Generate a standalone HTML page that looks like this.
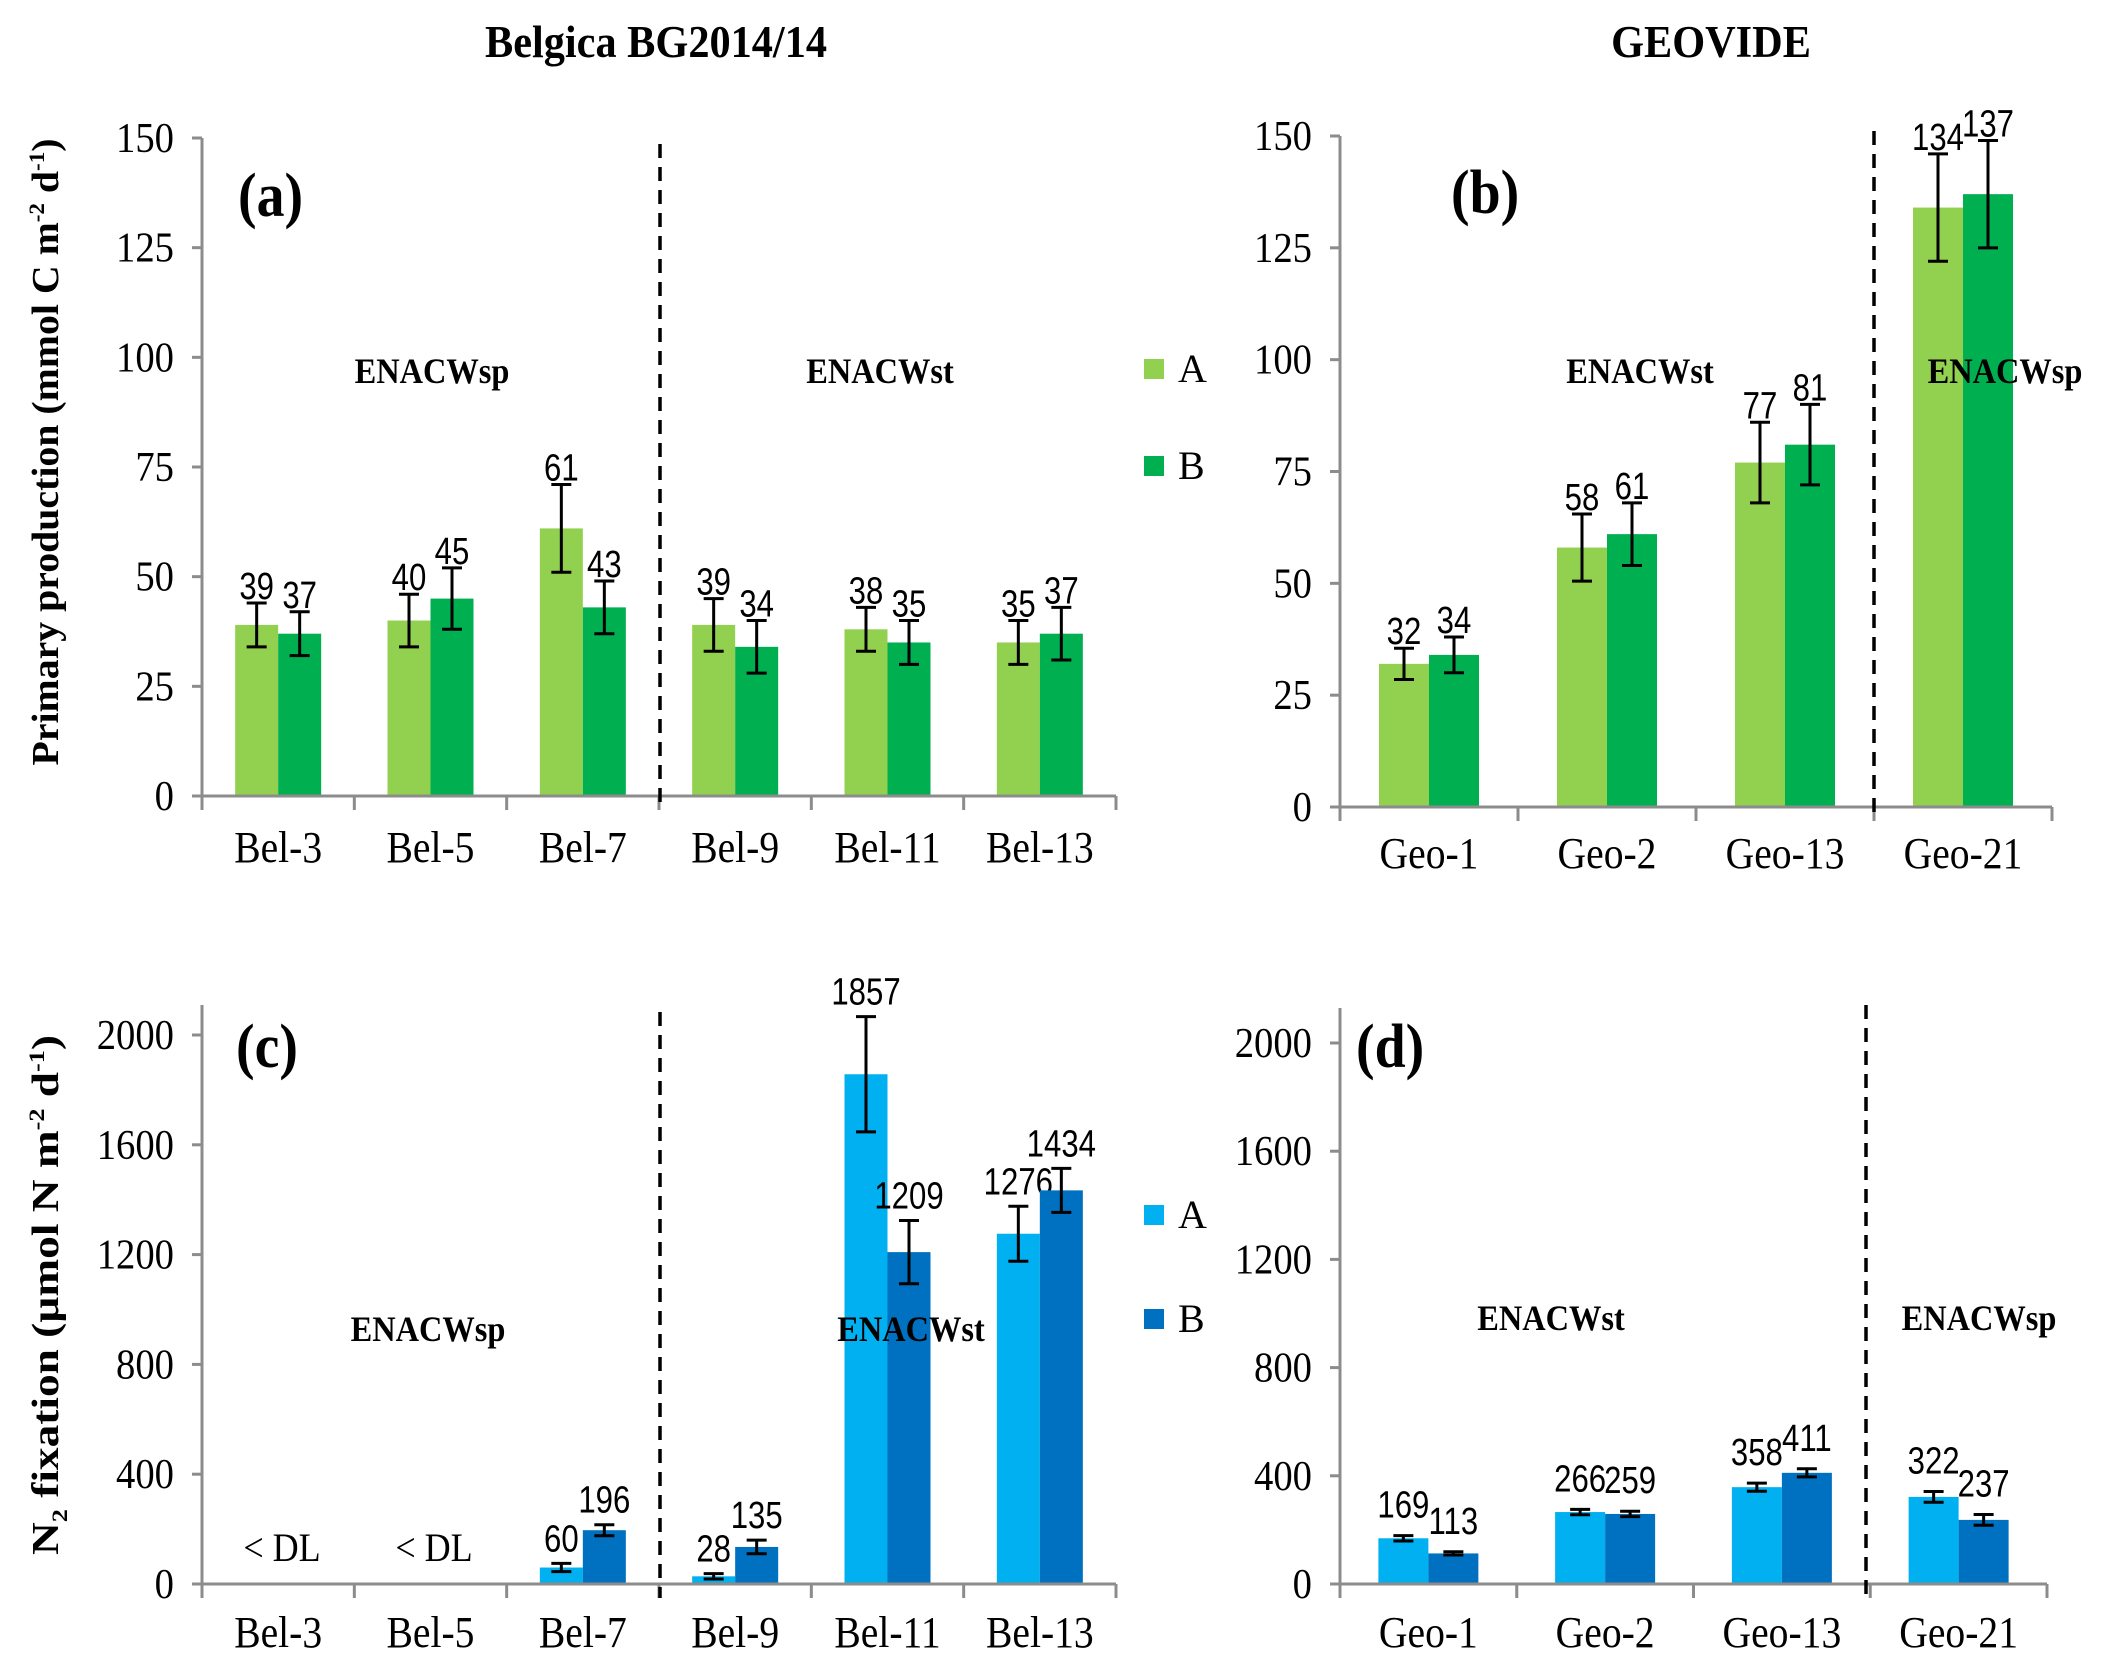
<!DOCTYPE html>
<html><head><meta charset="utf-8"><style>
html,body{margin:0;padding:0;background:#fff}
svg{display:block}
.serif{font-family:"Liberation Serif",serif}
.sans{font-family:"Liberation Sans",sans-serif}
</style></head><body>
<svg id="fig" width="2104" height="1663" viewBox="0 0 2104 1663" xmlns="http://www.w3.org/2000/svg">
<text transform="translate(656,57) scale(0.92,1)" text-anchor="middle" class="serif" font-weight="bold" font-size="46">Belgica BG2014/14</text>
<text transform="translate(1711,57) scale(0.92,1)" text-anchor="middle" class="serif" font-weight="bold" font-size="46">GEOVIDE</text>
<text transform="translate(58,452) rotate(-90)" text-anchor="middle" textLength="627" lengthAdjust="spacingAndGlyphs" class="serif" font-weight="bold" font-size="38">Primary production (mmol C m<tspan font-size="22" dy="-14">-2</tspan><tspan dy="14"> d</tspan><tspan font-size="22" dy="-14">-1</tspan><tspan dy="14">)</tspan></text>
<text transform="translate(58,1295) rotate(-90)" text-anchor="middle" textLength="520" lengthAdjust="spacingAndGlyphs" class="serif" font-weight="bold" font-size="38">N<tspan font-size="22" dy="9">2</tspan><tspan dy="-9"> fixation (µmol N m</tspan><tspan font-size="22" dy="-14">-2</tspan><tspan dy="14"> d</tspan><tspan font-size="22" dy="-14">-1</tspan><tspan dy="14">)</tspan></text>
<g>
<rect x="1144" y="359" width="20" height="20" fill="#92D050"/>
<text x="1178" y="382" class="serif" font-size="40">A</text>
<rect x="1144" y="456" width="20" height="20" fill="#00B050"/>
<text x="1178" y="479" class="serif" font-size="40">B</text>
</g>
<g>
<rect x="1144" y="1205" width="20" height="20" fill="#00B0F0"/>
<text x="1178" y="1228" class="serif" font-size="40">A</text>
<rect x="1144" y="1309" width="20" height="20" fill="#0070C0"/>
<text x="1178" y="1332" class="serif" font-size="40">B</text>
</g>
</svg>
<script>
// Panel (a)
const catsA = ["Bel-3","Bel-5","Bel-7","Bel-9","Bel-11","Bel-13"];
const valsA_A = [39,40,61,39,38,35];
const valsA_B = [37,45,43,34,35,37];
const errA_A = [5,6,10,6,5,5];
const errA_B = [5,7,6,6,5,6];
const ticksA = [0,25,50,75,100,125,150];
// Panel (b)
const catsB = ["Geo-1","Geo-2","Geo-13","Geo-21"];
const valsB_A = [32,58,77,134];
const valsB_B = [34,61,81,137];
const errB_A = [3.5,7.5,9,12];
const errB_B = [4,7,9,12];
const ticksB = [0,25,50,75,100,125,150];
// Panel (c)
const catsC = ["Bel-3","Bel-5","Bel-7","Bel-9","Bel-11","Bel-13"];
const valsC_A = [0,0,60,28,1857,1276];
const valsC_B = [0,0,196,135,1209,1434];
const errC_A = [0,0,15,10,210,100];
const errC_B = [0,0,20,25,115,80];
const labelsC_A = ["","","60","28","1857","1276"];
const labelsC_B = ["","","196","135","1209","1434"];
const ticksC = [0,400,800,1200,1600,2000];
// Panel (d)
const catsD = ["Geo-1","Geo-2","Geo-13","Geo-21"];
const valsD_A = [169,266,358,322];
const valsD_B = [113,259,411,237];
const errD_A = [10,10,15,20];
const errD_B = [6,10,15,20];
const ticksD = [0,400,800,1200,1600,2000];

const NS="http://www.w3.org/2000/svg";
const svg=document.getElementById('fig');
function mk(tag,attrs,parent){const e=document.createElementNS(NS,tag);for(const k in attrs)e.setAttribute(k,attrs[k]);(parent||svg).appendChild(e);return e;}
function txt(parent,x,y,s,cls,size,sx,anchor,bold){
  const t=mk('text',{transform:`translate(${x},${y}) scale(${sx},1)`,'text-anchor':anchor,'class':cls,'font-size':size},parent);
  if(bold)t.setAttribute('font-weight','bold');
  t.textContent=s;
  return t;
}

function panel(o){
  const g=mk('g',{});
  
  
  const y=v=>o.y0-(v-o.vmin)/(o.vmax-o.vmin)*(o.y0-o.ytop);
  const n=o.cats.length, cw=(o.x1-o.x0)/n;
  const x=i=>o.x0+i*cw;
  const ya=mk('line',{x1:o.x0,y1:o.axisTop,x2:o.x0,y2:o.y0,stroke:'#8c8c8c','stroke-width':3},g);
  
  
  o.ticks.forEach(t=>{
    const tl=mk('line',{x1:o.x0-10,y1:y(t),x2:o.x0,y2:y(t),stroke:'#8c8c8c','stroke-width':3},g);
    
    
    const tx=txt(g,o.x0-28,y(t)+14,String(t),'serif',42,0.92,'end');
    
    
  });
  o.cats.forEach((c,i)=>{
    const bx=x(i)+(cw-2*o.bw)/2;
    [[o.va,o.ea,o.ca,o.la,0],[o.vb,o.eb,o.cb,o.lb,1]].forEach(([vals,errs,col,labs,s])=>{
      const v=vals[i], xx=bx+s*o.bw;
      if(v>0){
        const r=mk('rect',{x:xx,y:y(v),width:o.bw,height:y(0)-y(v),fill:col},g);
        
        
      }
      const e=errs[i];
      let top=y(v)-4;
      if(e>0){
        const cx=xx+o.bw/2, yt=y(v+e), yb=y(v-e);
        const eg=mk('path',{d:`M${cx},${yt}V${yb}M${cx-10},${yt}H${cx+10}M${cx-10},${yb}H${cx+10}`,stroke:'#000','stroke-width':3,fill:'none'},g);
        
        
        top=yt-o.gap;
      }
      const lab=labs?labs[i]:String(v);
      if(lab){
        const t=txt(g,xx+o.bw/2,top,lab,'sans',38,0.82,'middle');
        
        
      }
    });
    const cl=txt(g,x(i)+cw/2,o.catY,c,'serif',44,0.9,'middle');
    
    
  });
  const xa=mk('line',{x1:o.x0-10,y1:o.y0,x2:o.x1,y2:o.y0,stroke:'#8c8c8c','stroke-width':3},g);
  
  
  for(let i=0;i<=n;i++){
    const tl=mk('line',{x1:x(i),y1:o.y0,x2:x(i),y2:o.y0+14,stroke:'#8c8c8c','stroke-width':3},g);
    
    
  }
  const dv=mk('line',{x1:o.divX,y1:o.divTop,x2:o.divX,y2:o.y0+14,stroke:'#000','stroke-width':3.5,'stroke-dasharray':'14,9'},g);
  
  
  const pl=txt(g,o.letterX,o.letterY,o.letter,'serif',62,0.9,'start',true);
  
  
  o.notes.forEach(([s,nx,ny])=>{
    const t=txt(g,nx,ny,s,'serif',36,0.9,'middle',true);
    
    
  });
  (o.extra||[]).forEach(([s,nx,ny])=>{
    const t=txt(g,nx,ny,s,'serif',40,0.9,'middle');
    
    
  });
}

panel({name:'panel-a',cats:catsA,va:valsA_A,vb:valsA_B,ea:errA_A,eb:errA_B,ca:'#92D050',cb:'#00B050',
  ticks:ticksA,vmin:0,vmax:150,x0:202,x1:1116,y0:796,ytop:138,axisTop:138,bw:43,catY:862,gap:4,
  divX:660,divTop:144,letter:'(a)',letterX:238,letterY:216,
  notes:[['ENACWsp',432,383],['ENACWst',880,383]]});
panel({name:'panel-b',cats:catsB,va:valsB_A,vb:valsB_B,ea:errB_A,eb:errB_B,ca:'#92D050',cb:'#00B050',
  ticks:ticksB,vmin:0,vmax:150,x0:1340,x1:2052,y0:807,ytop:136,axisTop:136,bw:50,catY:868,gap:4,
  divX:1874,divTop:131,letter:'(b)',letterX:1451,letterY:213,
  notes:[['ENACWst',1640,383],['ENACWsp',2005,383]]});
panel({name:'panel-c',cats:catsC,va:valsC_A,vb:valsC_B,ea:errC_A,eb:errC_B,la:labelsC_A,lb:labelsC_B,ca:'#00B0F0',cb:'#0070C0',
  ticks:ticksC,vmin:0,vmax:2000,x0:202,x1:1116,y0:1584,ytop:1035,axisTop:1005,bw:43,catY:1647,gap:12,
  divX:660,divTop:1012,letter:'(c)',letterX:236,letterY:1067,
  notes:[['ENACWsp',428,1341],['ENACWst',911,1341]],
  extra:[['< DL',282,1561],['< DL',434,1561]]});
panel({name:'panel-d',cats:catsD,va:valsD_A,vb:valsD_B,ea:errD_A,eb:errD_B,ca:'#00B0F0',cb:'#0070C0',
  ticks:ticksD,vmin:0,vmax:2000,x0:1340,x1:2047,y0:1584,ytop:1043,axisTop:1008,bw:50,catY:1647,gap:18,
  divX:1866,divTop:1005,letter:'(d)',letterX:1356,letterY:1067,
  notes:[['ENACWst',1551,1330],['ENACWsp',1979,1330]]});
</script>
</body></html>
